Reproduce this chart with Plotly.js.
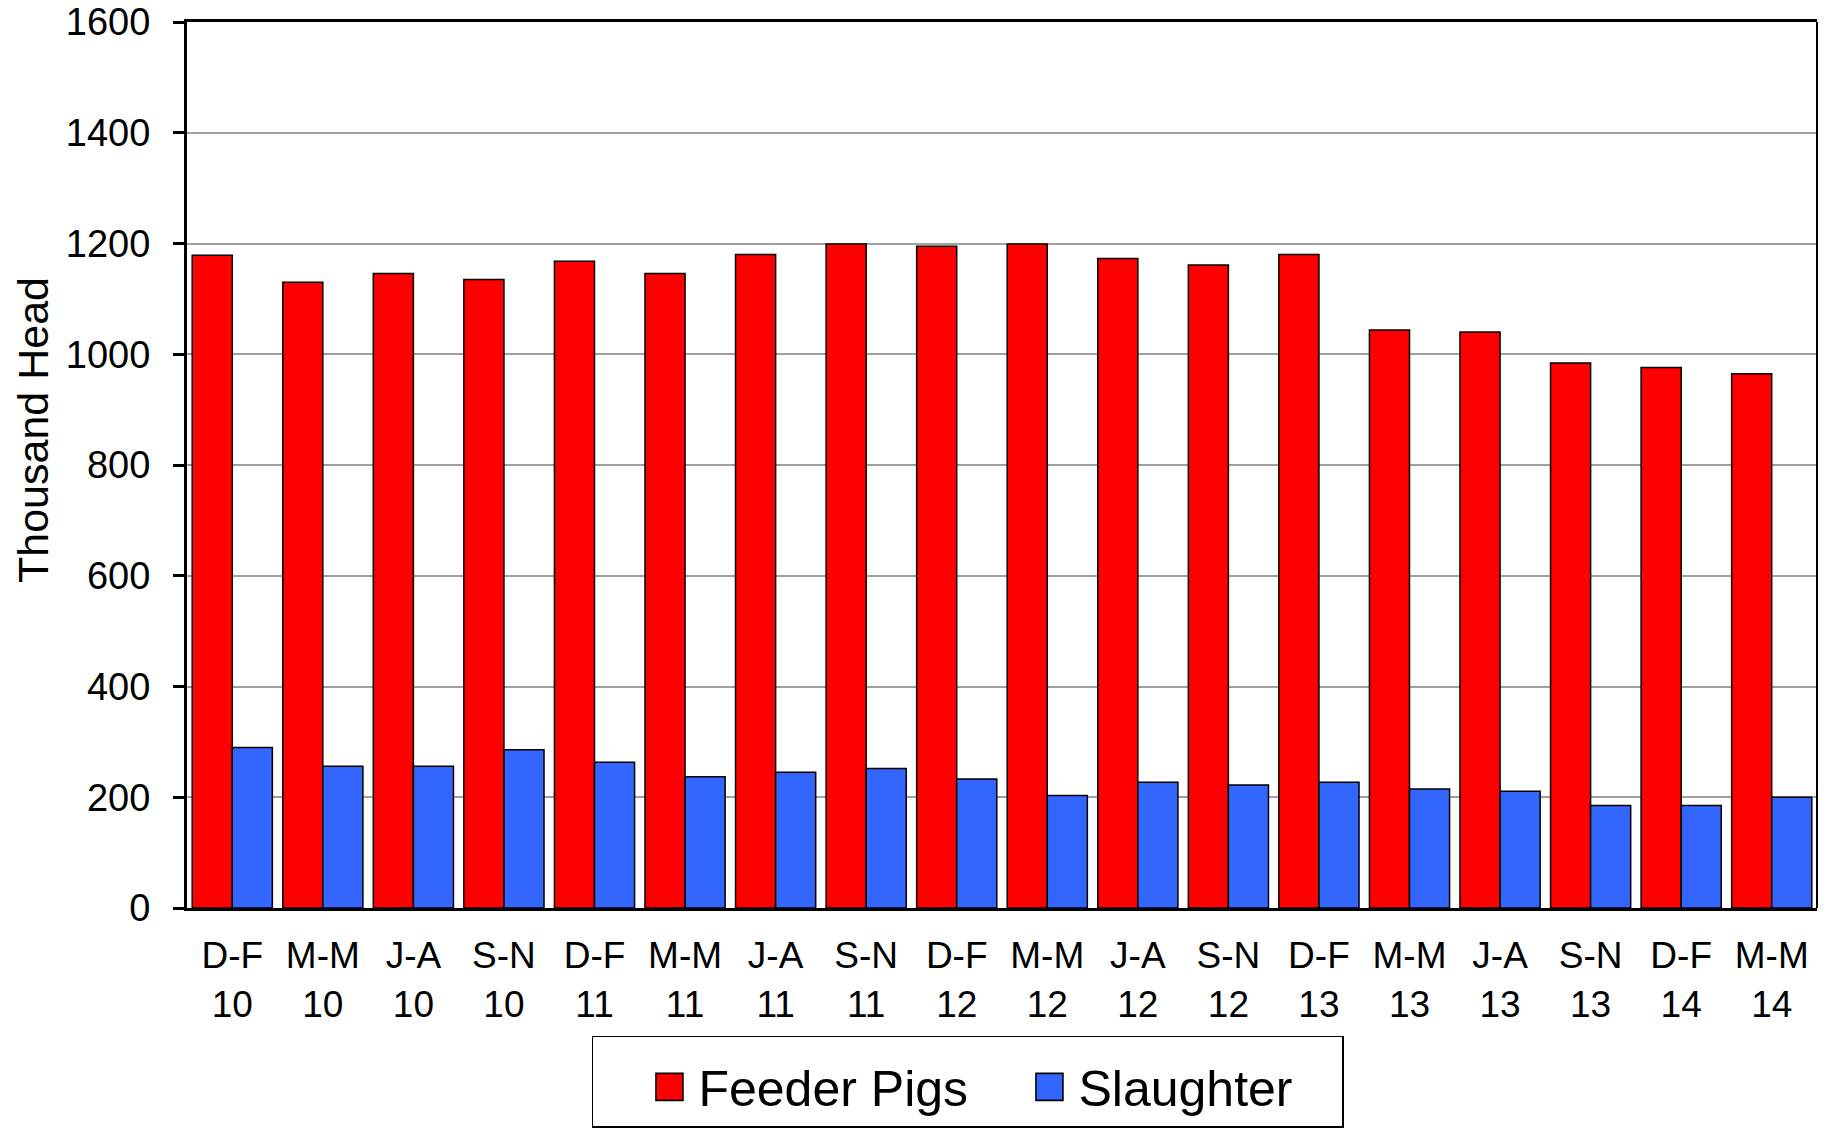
<!DOCTYPE html>
<html>
<head>
<meta charset="utf-8">
<script src="https://cdn.plot.ly/plotly-3.0.1.min.js"></script>
<style>
html,body{margin:0;padding:0;background:#fff;}
#chart{width:1831px;height:1129px;}
</style>
</head>
<body>
<div id="chart"></div>
<script>
const categories = ['D-F<br>10','M-M<br>10','J-A<br>10','S-N<br>10',
                    'D-F<br>11','M-M<br>11','J-A<br>11','S-N<br>11',
                    'D-F<br>12','M-M<br>12','J-A<br>12','S-N<br>12',
                    'D-F<br>13','M-M<br>13','J-A<br>13','S-N<br>13',
                    'D-F<br>14','M-M<br>14'];
const feederPigs = [1179,1130,1146,1135,1168,1146,1180,1199,1195,1199,1173,1161,1180,1044,1040,984,976,965];
const slaughter  = [290,256,256,286,263,237,245,252,233,203,227,222,227,215,211,185,185,200];
const yTickVals  = [0,200,400,600,800,1000,1200,1400,1600];

const FONT = '"Liberation Sans", Arial, sans-serif';

const traces = [
  {
    type: 'bar', name: 'Feeder Pigs', x: categories, y: feederPigs,
    marker: {color: '#FF0000', line: {color: '#000000', width: 1.5}},
    legendwidth: 270
  },
  {
    type: 'bar', name: 'Slaughter', x: categories, y: slaughter,
    marker: {color: '#3366FF', line: {color: '#000000', width: 1.5}},
    legendwidth: 259
  }
];

const layout = {
  width: 1831, height: 1129,
  margin: {l: 187, r: 14, t: 22, b: 221},
  paper_bgcolor: '#ffffff', plot_bgcolor: '#ffffff',
  font: {family: FONT, color: '#000000', size: 38},
  barmode: 'group', bargap: 0.115, bargroupgap: 0,
  showlegend: true,
  legend: {
    orientation: 'h', xref: 'container', yref: 'container',
    x: 0.3233, xanchor: 'left', y: 0.0824, yanchor: 'top',
    font: {family: FONT, size: 50, color: '#000'},
    bordercolor: '#000000', borderwidth: 1.5, bgcolor: '#ffffff',
    itemwidth: 95, traceorder: 'normal',
    title: {text: '\u00a0', side: 'top', font: {size: 8}}
  },
  xaxis: {
    type: 'category', showgrid: false, zeroline: false,
    showline: true, linecolor: '#000', linewidth: 3, mirror: true,
    ticks: '', tickfont: {family: FONT, size: 37},
    ticklabelstandoff: 13, automargin: false, fixedrange: true
  },
  yaxis: {
    range: [0, 1600], tickvals: yTickVals, ticktext: yTickVals.map(String),
    showgrid: true, gridcolor: '#A0A0A0', gridwidth: 2, zeroline: false,
    showline: true, linecolor: '#000', linewidth: 3,
    ticks: 'outside', ticklen: 11, tickwidth: 3, tickcolor: '#000',
    tickfont: {family: FONT, size: 38}, ticklabelstandoff: 15,
    title: {text: 'Thousand Head', font: {family: FONT, size: 43}, standoff: 4},
    automargin: false, fixedrange: true
  },
  shapes: [
    {type: 'line', xref: 'paper', yref: 'paper', x0: 1, x1: 1, y0: 0, y1: 1,
     line: {color: '#000', width: 2}}
  ]
};

Plotly.newPlot('chart', traces, layout, {displayModeBar: false, staticPlot: true}).then(function(gd){
  // enlarge legend swatches and place them just left of their labels
  gd.querySelectorAll('.legend g.traces').forEach(function(tr){
    var txt = tr.querySelector('text.legendtext');
    var textX = txt ? parseFloat(txt.getAttribute('x')) : 40;
    tr.querySelectorAll('.legendpoints path').forEach(function(p){
      p.setAttribute('transform', 'translate(' + (textX - 29) + ',0) scale(2.25)');
      p.style.strokeWidth = '0.7px';
    });
  });
  // nudge the y-axis title to the reference position
  var yt = gd.querySelector('.g-ytitle');
  if (yt) yt.setAttribute('transform', 'translate(0,-35)');
});
</script>
</body>
</html>
